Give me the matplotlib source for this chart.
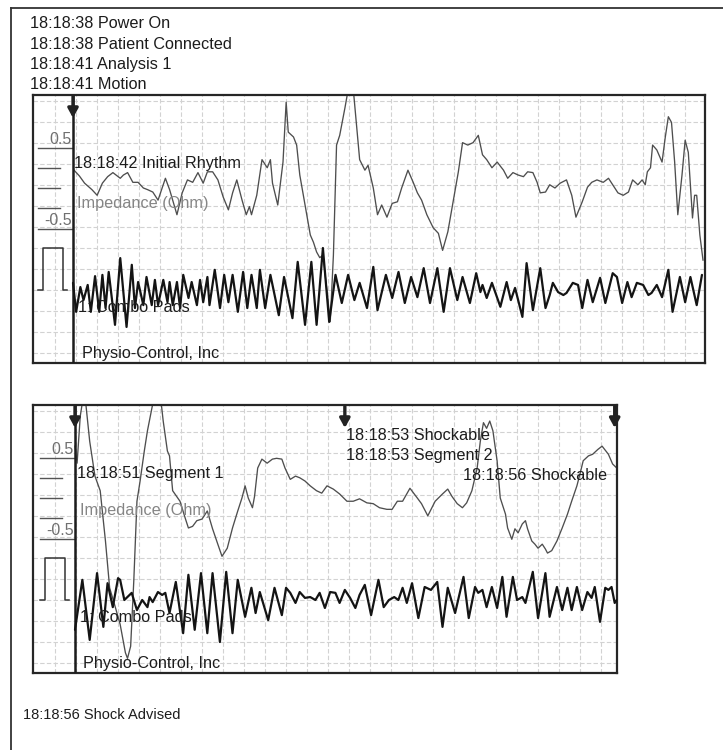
import matplotlib
matplotlib.use("Agg")
import matplotlib.pyplot as plt
from matplotlib.lines import Line2D
from matplotlib.transforms import blended_transform_factory

plt.rcParams['font.family'] = ['Liberation Sans', 'DejaVu Sans']

# page size in px and strip scale (25 mm/s style paper, 0.2 s / 0.5 mV squares)
W, H = 723, 750
PX_PER_S = 105.0
PX_PER_MV = 42.0
PX_PER_OHM = 81.0

HEADER_EVENTS = ["18:18:38 Power On", "18:18:38 Patient Connected",
                 "18:18:41 Analysis 1", "18:18:41 Motion"]
FOOTER_EVENT = "18:18:56 Shock Advised"

# 1 mV calibration pulse
CAL_T = [-0.33, -0.29, -0.29, -0.10, -0.10, -0.06]
CAL_MV = [0, 0, 1, 1, 0, 0]

IMP_TICKS = [0.5, 0.25, 0.0, -0.25, -0.5]
IMP_TICK_LABELS = ["0.5", "", "", "", "-0.5"]

# ---- strip 1 (starts 18:18:42) ----
P1_ECG_T = [0.00, 0.03, 0.07, 0.10, 0.14, 0.17, 0.21, 0.25, 0.28, 0.31,
            0.34, 0.40, 0.45, 0.51, 0.56, 0.59, 0.62, 0.67, 0.70, 0.75,
            0.78, 0.81, 0.86, 0.90, 0.92, 0.95, 0.99, 1.02, 1.05, 1.10,
            1.13, 1.18, 1.21, 1.24, 1.28, 1.30, 1.35, 1.40, 1.44, 1.48,
            1.52, 1.57, 1.62, 1.66, 1.70, 1.75, 1.78, 1.83, 1.88, 1.96,
            2.01, 2.09, 2.14, 2.21, 2.27, 2.32, 2.38, 2.44, 2.50, 2.56,
            2.62, 2.68, 2.73, 2.80, 2.86, 2.90, 2.98, 3.04, 3.10, 3.16,
            3.22, 3.28, 3.34, 3.40, 3.47, 3.53, 3.59, 3.66, 3.71, 3.78,
            3.84, 3.88, 3.90, 3.94, 3.99, 4.07, 4.13, 4.17, 4.21, 4.28,
            4.32, 4.38, 4.45, 4.50, 4.54, 4.57, 4.62, 4.67, 4.70, 4.76,
            4.81, 4.85, 4.90, 4.95, 5.02, 5.07, 5.14, 5.18, 5.23, 5.28,
            5.32, 5.37, 5.43, 5.48, 5.51, 5.56, 5.61, 5.67, 5.71, 5.78,
            5.83, 5.88, 5.94, 5.99]
P1_ECG_MV = [0.17, -0.52, 0.07, -0.24, 0.12, -0.52, 0.33, -0.52, 0.36, -0.43,
             0.43, -0.83, 0.76, -0.88, 0.60, -0.43, 0.19, -0.36, 0.31, -0.36,
             0.24, -0.36, 0.24, -0.29, 0.19, -0.36, 0.19, -0.43, 0.36, -0.19,
             0.19, -0.36, 0.24, -0.29, 0.31, -0.36, 0.48, -0.43, 0.36, -0.29,
             0.36, -0.52, 0.43, -0.43, 0.36, -0.43, 0.48, -0.43, 0.36, -0.60,
             0.31, -0.67, 0.67, -0.83, 0.67, -0.83, 1.00, -0.76, 0.36, -0.31,
             0.36, -0.24, 0.17, -0.43, 0.55, -0.48, 0.36, -0.19, 0.43, -0.31,
             0.31, -0.17, 0.52, -0.31, 0.52, -0.52, 0.52, -0.24, 0.31, -0.31,
             0.40, -0.05, 0.12, -0.19, 0.17, -0.40, 0.19, -0.24, 0.05, -0.64,
             0.64, -0.48, 0.52, -0.43, -0.12, 0.17, -0.05, -0.12, -0.07, 0.17,
             0.12, -0.43, 0.24, -0.29, 0.29, -0.31, 0.40, 0.31, -0.31, 0.19,
             -0.17, 0.17, 0.12, -0.12, -0.07, 0.12, -0.17, 0.48, -0.52, 0.31,
             -0.29, 0.31, -0.36, 0.36]
P1_IMP_T = [0.01, 0.06, 0.11, 0.18, 0.23, 0.28, 0.33, 0.38, 0.45, 0.48,
            0.52, 0.57, 0.62, 0.67, 0.71, 0.76, 0.81, 0.88, 0.92, 0.99,
            1.04, 1.09, 1.14, 1.19, 1.24, 1.28, 1.33, 1.38, 1.43, 1.48,
            1.52, 1.56, 1.61, 1.65, 1.68, 1.70, 1.75, 1.80, 1.85, 1.88,
            1.90, 1.95, 2.00, 2.03, 2.05, 2.10, 2.13, 2.16, 2.21, 2.26,
            2.29, 2.32, 2.35, 2.38, 2.42, 2.45, 2.48, 2.51, 2.54, 2.59,
            2.62, 2.67, 2.70, 2.73, 2.78, 2.81, 2.86, 2.90, 2.94, 2.99,
            3.04, 3.09, 3.13, 3.19, 3.24, 3.28, 3.32, 3.37, 3.43, 3.48,
            3.52, 3.57, 3.62, 3.67, 3.71, 3.76, 3.81, 3.86, 3.90, 3.94,
            3.99, 4.04, 4.10, 4.14, 4.19, 4.24, 4.29, 4.33, 4.38, 4.42,
            4.45, 4.50, 4.54, 4.59, 4.64, 4.70, 4.75, 4.79, 4.85, 4.90,
            4.94, 4.99, 5.05, 5.10, 5.14, 5.19, 5.24, 5.29, 5.33, 5.38,
            5.42, 5.45, 5.47, 5.50, 5.52, 5.56, 5.61, 5.64, 5.67, 5.70,
            5.73, 5.76, 5.80, 5.83, 5.86, 5.90, 5.92, 5.94, 5.97, 6.00]
P1_IMP_OHM = [0.22, 0.15, 0.06, -0.02, -0.09, 0.06, 0.14, 0.19, 0.12, 0.16,
              0.19, 0.07, 0.07, 0.00, -0.02, -0.05, -0.15, 0.12, -0.02, -0.33,
              -0.06, 0.10, 0.07, 0.19, 0.06, 0.20, 0.20, 0.10, -0.11, -0.27,
              -0.06, 0.10, -0.15, -0.33, -0.23, -0.33, -0.09, 0.35, 0.25, 0.35,
              0.06, -0.21, 0.32, 1.06, 0.69, 0.63, 0.53, 0.16, -0.21, -0.58,
              -0.67, -0.79, -0.86, -0.83, -1.28, -1.65, -0.83, 0.53, 0.65, 0.99,
              1.21, 1.21, 0.78, 0.35, 0.22, 0.28, 0.00, -0.33, -0.21, -0.36,
              -0.19, -0.17, 0.00, 0.22, 0.07, -0.06, -0.15, -0.33, -0.49, -0.56,
              -0.77, -0.54, -0.17, 0.20, 0.56, 0.53, 0.56, 0.65, 0.41, 0.35,
              0.25, 0.32, 0.22, 0.12, 0.19, 0.16, 0.14, 0.20, 0.19, 0.07,
              -0.06, -0.05, 0.04, 0.00, 0.06, 0.10, -0.09, -0.36, -0.17, 0.01,
              0.07, 0.10, 0.07, 0.12, 0.04, -0.06, -0.09, -0.05, 0.10, 0.04,
              0.10, 0.04, 0.20, 0.25, 0.53, 0.47, 0.32, 0.62, 0.88, 0.81,
              0.32, -0.33, 0.16, 0.59, 0.44, -0.37, -0.09, -0.09, -0.58, -0.89]
P1_MARK_T = [0.0]

# ---- strip 2 (starts 18:18:51) ----
P2_ECG_T = [0.00, 0.07, 0.14, 0.21, 0.27, 0.31, 0.36, 0.41, 0.43, 0.47,
            0.54, 0.59, 0.64, 0.69, 0.71, 0.74, 0.79, 0.83, 0.86, 0.90,
            0.96, 1.03, 1.08, 1.14, 1.20, 1.26, 1.31, 1.38, 1.44, 1.50,
            1.55, 1.62, 1.68, 1.72, 1.76, 1.84, 1.90, 1.97, 2.01, 2.05,
            2.10, 2.14, 2.19, 2.24, 2.29, 2.33, 2.38, 2.43, 2.48, 2.52,
            2.57, 2.62, 2.67, 2.71, 2.76, 2.82, 2.89, 2.94, 2.99, 3.04,
            3.08, 3.12, 3.16, 3.21, 3.27, 3.33, 3.39, 3.45, 3.50, 3.55,
            3.62, 3.70, 3.75, 3.81, 3.84, 3.88, 3.92, 3.97, 4.02, 4.07,
            4.11, 4.17, 4.21, 4.26, 4.29, 4.36, 4.41, 4.48, 4.52, 4.59,
            4.64, 4.69, 4.73, 4.78, 4.83, 4.88, 4.92, 4.95, 5.00, 5.05,
            5.08, 5.11, 5.14, 5.16]
P2_ECG_MV = [-0.71, 0.48, -0.95, 0.64, -0.64, 0.40, -0.17, 0.52, 0.48, 0.00,
             0.17, -0.24, 0.00, -0.17, 0.07, -0.05, 0.19, 0.12, 0.17, -0.31,
             0.43, -0.79, 0.60, -0.71, 0.64, -0.79, 0.64, -1.00, 0.67, -0.79,
             0.48, -0.40, 0.29, -0.31, 0.19, -0.48, 0.29, -0.36, 0.29, 0.17,
             -0.07, 0.19, 0.05, 0.07, 0.00, 0.17, -0.19, 0.19, 0.17, -0.07,
             0.24, 0.05, -0.19, 0.12, 0.36, -0.36, 0.48, -0.17, 0.00, 0.07,
             0.00, 0.29, -0.07, 0.40, -0.43, 0.31, 0.24, 0.43, -0.64, 0.29,
             -0.31, 0.55, -0.43, 0.31, 0.17, 0.24, -0.17, 0.31, -0.19, 0.55,
             -0.40, 0.55, 0.00, 0.07, -0.07, 0.67, -0.43, 0.64, -0.40, 0.31,
             -0.24, 0.29, -0.24, 0.31, -0.24, 0.19, 0.05, 0.31, -0.52, 0.29,
             0.24, 0.31, -0.07, 0.00]
P2_IMP_T = [0.00, 0.02, 0.05, 0.08, 0.10, 0.14, 0.19, 0.24, 0.29, 0.33,
            0.38, 0.43, 0.48, 0.50, 0.53, 0.56, 0.59, 0.62, 0.66, 0.69,
            0.74, 0.76, 0.81, 0.84, 0.88, 0.90, 0.93, 1.00, 1.05, 1.08,
            1.12, 1.16, 1.21, 1.26, 1.31, 1.36, 1.40, 1.45, 1.50, 1.55,
            1.59, 1.62, 1.65, 1.69, 1.71, 1.74, 1.78, 1.83, 1.88, 1.92,
            1.97, 2.00, 2.05, 2.10, 2.14, 2.19, 2.24, 2.30, 2.35, 2.40,
            2.46, 2.52, 2.59, 2.65, 2.71, 2.78, 2.84, 2.90, 2.97, 3.02,
            3.07, 3.12, 3.19, 3.26, 3.30, 3.36, 3.43, 3.50, 3.55, 3.59,
            3.64, 3.69, 3.73, 3.78, 3.83, 3.86, 3.89, 3.92, 3.95, 3.98,
            4.02, 4.05, 4.10, 4.12, 4.16, 4.19, 4.22, 4.26, 4.29, 4.31,
            4.35, 4.38, 4.41, 4.45, 4.48, 4.50, 4.54, 4.59, 4.64, 4.69,
            4.73, 4.78, 4.81, 4.84, 4.89, 4.93, 4.98, 5.02, 5.08, 5.12,
            5.16]
P2_IMP_OHM = [0.64, 0.43, 1.01, 1.26, 1.20, 0.70, 0.27, 0.09, -0.53, -1.11,
              -1.33, -1.56, -1.91, -1.98, -1.83, -1.02, -0.04, 0.21, 0.58, 0.83,
              1.16, 1.30, 1.30, 0.95, 0.58, 0.52, 0.09, -0.04, -0.25, -0.37,
              -0.35, -0.28, -0.26, -0.16, -0.38, -0.57, -0.72, -0.62, -0.37, -0.16,
              0.00, 0.15, 0.00, -0.12, 0.02, 0.37, 0.48, 0.43, 0.48, 0.49,
              0.48, 0.37, 0.23, 0.27, 0.25, 0.21, 0.15, 0.09, 0.06, 0.15,
              0.11, 0.05, -0.04, -0.04, -0.01, -0.06, -0.07, -0.12, -0.14, -0.14,
              -0.04, -0.04, 0.12, 0.00, -0.07, -0.22, -0.04, 0.05, 0.11, 0.02,
              -0.07, -0.12, -0.06, 0.09, 0.37, 0.70, 0.93, 0.86, 0.95, 0.83,
              0.46, 0.00, -0.20, -0.37, -0.51, -0.38, -0.43, -0.32, -0.28, -0.38,
              -0.53, -0.57, -0.62, -0.57, -0.63, -0.68, -0.65, -0.53, -0.37, -0.20,
              -0.04, 0.15, 0.30, 0.46, 0.52, 0.54, 0.60, 0.64, 0.54, 0.42,
              0.37]
P2_MARK_T = [0.0, 2.57, 5.14]

GRID_C = "#d2d2d2"
INK = "#1c1c1c"


def fig_text(fig, x, y, s, **kw):
    # x, y in page pixels, y = baseline from top
    kw.setdefault("fontsize", 11.7)
    kw.setdefault("color", INK)
    fig.text(x / W, 1 - y / H, s, ha=kw.pop("ha", "left"), va="baseline", **kw)


def draw_strip(fig, top, right, axis_x, ecg_t, ecg_mv, imp_t, imp_ohm, marks):
    left, height = 33, 268
    ax = fig.add_axes([left / W, 1 - (top + height) / H, (right - left) / W, height / H])
    ax.set_xlim((left - axis_x) / PX_PER_S, (right - axis_x) / PX_PER_S)
    ax.set_ylim(-(height - 93) / PX_PER_OHM, 93 / PX_PER_OHM)
    ax.set_xticks([]); ax.set_yticks([])
    for s in ax.spines.values():
        s.set_linewidth(1.6); s.set_color("#262626")

    ex = ax.twinx()
    ex.set_ylim(-(height - 195) / PX_PER_MV, 195 / PX_PER_MV)
    ex.set_yticks([])
    for s in ex.spines.values():
        s.set_visible(False)

    # paper grid: 0.2 s x 0.5 mV
    t0, t1 = ax.get_xlim()
    g = (left + 22 - axis_x) / PX_PER_S
    while g < t1:
        ax.axvline(g, color=GRID_C, lw=0.8, ls=(0, (4, 2)), zorder=0)
        g += 0.2
    trans = blended_transform_factory(ax.transAxes, ex.transData)
    lo, hi = ex.get_ylim()
    k = int(lo / 0.5)
    while k * 0.5 < hi:
        if k * 0.5 > lo:
            ax.add_line(Line2D([0, 1], [k * 0.5, k * 0.5], transform=trans,
                               color=GRID_C, lw=0.8, ls=(0, (4, 2)), zorder=0))
        k += 1

    # impedance scale dashes
    for v, lab in zip(IMP_TICKS, IMP_TICK_LABELS):
        end = -0.01 if lab else -0.125
        ax.plot([-0.335, end], [v, v], color="#555555", lw=1.0, zorder=2)
        if lab:
            ax.text(-0.012, v + 0.005, lab, ha="right", va="bottom",
                    fontsize=11.5, color="#707070")

    ax.axvline(0, color=INK, lw=1.8, zorder=3)
    ax.plot(imp_t, imp_ohm, color="#4e4e4e", lw=0.95, zorder=2,
            solid_joinstyle="round")

    ex.plot(CAL_T, CAL_MV, color="#333333", lw=1.1)
    ex.plot(ecg_t, ecg_mv, color="#141414", lw=1.6,
            solid_joinstyle="round", solid_capstyle="round")

    tip = 1 - 23 / height
    for t in marks:
        ex.annotate("", xy=(t, tip), xycoords=("data", "axes fraction"),
                    xytext=(t, 0.995), textcoords=("data", "axes fraction"),
                    arrowprops=dict(arrowstyle="-|>,head_length=0.55,head_width=0.3",
                                    lw=2.4, color="#222222", shrinkA=0, shrinkB=0))
    return ax


fig = plt.figure(figsize=(W / 100, H / 100), dpi=100)
fig.patch.set_facecolor("white")

# page edge of the scan
fig.add_artist(Line2D([11 / W, 11 / W], [0, 1 - 8 / H], color="#333333", lw=1.3))
fig.add_artist(Line2D([11 / W, 1], [1 - 8 / H, 1 - 8 / H], color="#333333", lw=1.3))

for i, s in enumerate(HEADER_EVENTS):
    fig_text(fig, 30, 28.5 + 20.3 * i, s)

draw_strip(fig, 95, 705, 73, P1_ECG_T, P1_ECG_MV, P1_IMP_T, P1_IMP_OHM, P1_MARK_T)
fig_text(fig, 74, 168, "18:18:42 Initial Rhythm")
fig_text(fig, 77, 208, "Impedance (Ohm)", color="#858585")
fig_text(fig, 78, 312, "1: Combo Pads")
fig_text(fig, 82, 358, "Physio-Control, Inc")

draw_strip(fig, 405, 617, 75, P2_ECG_T, P2_ECG_MV, P2_IMP_T, P2_IMP_OHM, P2_MARK_T)
fig_text(fig, 77, 478, "18:18:51 Segment 1")
fig_text(fig, 80, 515, "Impedance (Ohm)", color="#858585")
fig_text(fig, 80, 622, "1: Combo Pads")
fig_text(fig, 83, 668, "Physio-Control, Inc")
fig_text(fig, 346, 440, "18:18:53 Shockable")
fig_text(fig, 346, 460, "18:18:53 Segment 2")
fig_text(fig, 463, 480, "18:18:56 Shockable")

fig_text(fig, 23, 719, FOOTER_EVENT, fontsize=10.5,
         family=["Liberation Sans Narrow", "Liberation Sans", "DejaVu Sans"])

fig.savefig("out.png", dpi=100, facecolor="white")
